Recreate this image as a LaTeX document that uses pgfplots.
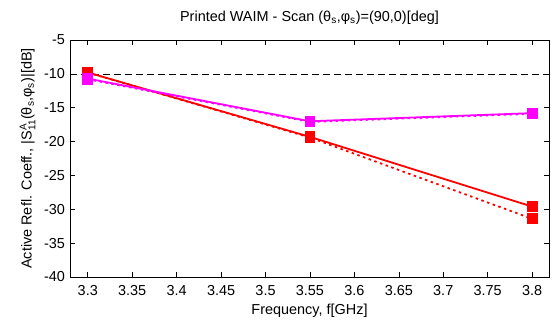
\documentclass[border=0pt]{standalone}
\usepackage{fontspec}
\setmainfont{Liberation Sans}
\usepackage{pgfplots}
\pgfplotsset{compat=1.18}
\definecolor{mg}{RGB}{255,0,255}
\definecolor{rd}{RGB}{255,0,0}
\newcommand{\sfs}{\fontsize{10}{11}\selectfont}
\begin{document}
\fontsize{14.5}{17}\selectfont
\begin{tikzpicture}[x=1bp,y=1bp]
\begin{axis}[
  at={(0,0)}, anchor=south west,
  scale only axis, width=479bp, height=237bp,
  xmin=3.28, xmax=3.819, ymin=-40, ymax=-5,
  xtick={3.3,3.35,...,3.81},
  xticklabels={3.3,3.35,3.4,3.45,3.5,3.55,3.6,3.65,3.7,3.75,3.8},
  ytick={-40,-35,...,-5},
  tick align=inside, tick style={black, line width=0.6pt}, major tick length=5bp,
  axis line style={line width=1pt},
  /pgf/number format/assume math mode=true,
  ticklabel style={font=\fontsize{14.5}{17}\selectfont},
  label style={font=\fontsize{14.5}{17}\selectfont},
  title style={font=\fontsize{14.5}{17}\selectfont, yshift=5bp},
  xlabel={Frequency, f[GHz]},
  ylabel={Active Refl. Coeff., |S$^{\mbox{\sfs A}}_{\mbox{\sfs 11}}$(θ\textsubscript{s},φ\textsubscript{s})|[dB]},
  title={Printed WAIM - Scan (θ\textsubscript{s},φ\textsubscript{s})=(90,0)[deg]},
  xlabel style={yshift=1bp},
  ylabel style={yshift=-1bp},
  xticklabel style={yshift=-3bp},
  clip=false,
]
\addplot[black, line width=0.6pt, dash pattern=on 7bp off 4bp, forget plot] coordinates {(3.28,-10) (3.819,-10)};
\addplot[rd, line width=1.8pt, dash pattern=on 2.5bp off 3.5bp, mark=square*, mark size=4.5bp, mark options={solid}] coordinates {(3.3,-9.8) (3.55,-19.4) (3.8,-31.4)};
\addplot[rd, line width=1.8pt, mark=square*, mark size=4.5bp] coordinates {(3.3,-9.8) (3.55,-19.3) (3.8,-29.6)};
\addplot[mg, line width=1.8pt, dash pattern=on 2.5bp off 3.5bp, mark=square*, mark size=4.5bp, mark options={solid}] coordinates {(3.3,-10.8) (3.55,-17.1) (3.8,-15.9)};
\addplot[mg, line width=1.8pt, mark=square*, mark size=4.5bp] coordinates {(3.3,-10.7) (3.55,-17.0) (3.8,-15.8)};
\end{axis}
\useasboundingbox (-70bp,-56bp) rectangle (485bp,277bp);
\end{tikzpicture}
\end{document}
